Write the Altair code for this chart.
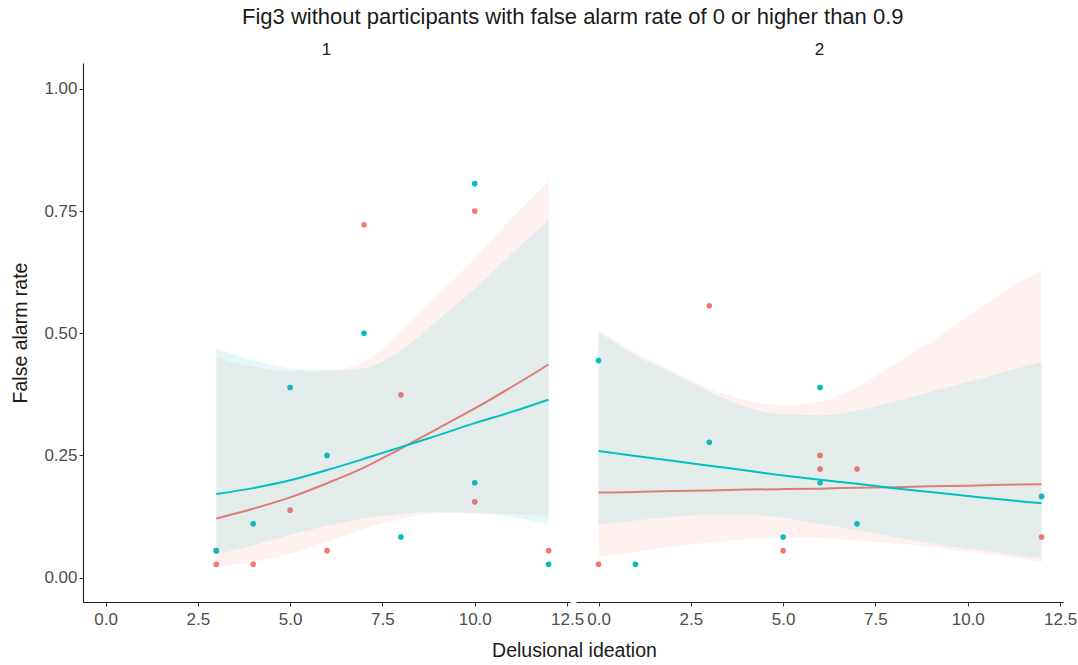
import altair as alt
import pandas as pd

RED = "#F8766D"
TEAL = "#00BFC4"
FONT = "Liberation Sans"

# ---------------- points ----------------
p1_red_x = [3, 3, 4, 5, 6, 7, 8, 10, 10, 12]
p1_red_y = [0.027, 0.055, 0.027, 0.138, 0.055, 0.722, 0.374, 0.750, 0.155, 0.055]
p1_teal_x = [3, 4, 5, 6, 7, 8, 10, 10, 12]
p1_teal_y = [0.055, 0.110, 0.389, 0.250, 0.500, 0.083, 0.806, 0.194, 0.027]
p2_red_x = [0, 3, 5, 6, 6, 7, 12]
p2_red_y = [0.027, 0.556, 0.055, 0.250, 0.222, 0.222, 0.083]
p2_teal_x = [0, 1, 3, 5, 6, 6, 7, 12]
p2_teal_y = [0.444, 0.027, 0.277, 0.083, 0.389, 0.194, 0.110, 0.166]

# ---------------- fitted curves + confidence bands ----------------
p1_fit_x = [3, 4, 5, 6, 7, 8, 9, 10, 11, 12]
p1_red_fit = [0.121, 0.141, 0.164, 0.193, 0.225, 0.264, 0.305, 0.346, 0.390, 0.436]
p1_red_lo = [0.022, 0.032, 0.049, 0.073, 0.100, 0.121, 0.132, 0.131, 0.130, 0.126]
p1_red_hi = [0.450, 0.432, 0.422, 0.424, 0.441, 0.503, 0.578, 0.653, 0.735, 0.811]
p1_teal_fit = [0.171, 0.183, 0.199, 0.220, 0.243, 0.267, 0.291, 0.316, 0.339, 0.364]
p1_teal_lo = [0.047, 0.066, 0.087, 0.106, 0.121, 0.130, 0.134, 0.132, 0.124, 0.108]
p1_teal_hi = [0.469, 0.445, 0.428, 0.424, 0.428, 0.465, 0.527, 0.591, 0.663, 0.731]

p2_fit_x = [0, 1, 2, 3, 4, 5, 6, 7, 8, 9, 10, 11, 12]
p2_red_fit = [0.174, 0.175, 0.177, 0.178, 0.180, 0.181, 0.182, 0.184, 0.185, 0.187, 0.188, 0.190, 0.191]
p2_red_lo = [0.042, 0.053, 0.063, 0.072, 0.078, 0.082, 0.081, 0.076, 0.070, 0.063, 0.053, 0.044, 0.032]
p2_red_hi = [0.506, 0.460, 0.422, 0.387, 0.363, 0.353, 0.360, 0.390, 0.435, 0.482, 0.534, 0.585, 0.629]
p2_teal_fit = [0.259, 0.249, 0.239, 0.229, 0.219, 0.209, 0.200, 0.192, 0.183, 0.175, 0.167, 0.159, 0.152]
p2_teal_lo = [0.108, 0.117, 0.124, 0.129, 0.129, 0.122, 0.110, 0.097, 0.083, 0.070, 0.059, 0.049, 0.039]
p2_teal_hi = [0.503, 0.455, 0.418, 0.380, 0.349, 0.334, 0.332, 0.342, 0.360, 0.380, 0.400, 0.421, 0.441]

x_ticks = [0, 2.5, 5, 7.5, 10, 12.5]
y_ticks = [0, 0.25, 0.5, 0.75, 1.0]

W, H = 487, 539
xscale = alt.Scale(domain=[-0.61, 12.58], nice=False, zero=False)
yscale = alt.Scale(domain=[-0.05, 1.053], nice=False, zero=False)


def pts_df(rx, ry, tx, ty):
    return pd.DataFrame({
        "x": rx + tx,
        "y": ry + ty,
        "grp": ["a"] * len(rx) + ["b"] * len(tx),
    })


def fit_df(x, f, lo, hi):
    return pd.DataFrame({"x": x, "fit": f, "lo": lo, "hi": hi})


def panel(label, pts, red, teal, first):
    if first:
        xaxis = alt.Axis(values=x_ticks, format=".1f", title="Delusional ideation",
                         titleX=491)
        yaxis = alt.Axis(values=y_ticks, format=".2f", title="False alarm rate")
    else:
        xaxis = alt.Axis(values=x_ticks, format=".1f", title=None)
        yaxis = None
    X = alt.X("x:Q", scale=xscale, axis=xaxis)
    Y = alt.Y("y:Q", scale=yscale, axis=yaxis)
    points = alt.Chart(pts).mark_circle(size=32, opacity=1).encode(
        x=X, y=Y,
        color=alt.Color("grp:N", scale=alt.Scale(domain=["a", "b"], range=[RED, TEAL]), legend=None),
    )
    layers = [points]
    for df, col in ((red, RED), (teal, TEAL)):
        band = alt.Chart(df).mark_area(color=col, opacity=0.1, interpolate="monotone").encode(
            x=alt.X("x:Q", scale=xscale),
            y=alt.Y("lo:Q", scale=yscale),
            y2="hi:Q",
        )
        line = alt.Chart(df).mark_line(color=col, strokeWidth=2, interpolate="monotone").encode(
            x=alt.X("x:Q", scale=xscale),
            y=alt.Y("fit:Q", scale=yscale),
        )
        layers += [band, line]
    return alt.layer(*layers).properties(
        width=W, height=H,
        title=alt.TitleParams(label, fontSize=17, fontWeight="normal", font=FONT,
                              color="#1a1a1a", anchor="middle", frame="group", offset=4),
    )


c1 = panel("1", pts_df(p1_red_x, p1_red_y, p1_teal_x, p1_teal_y),
           fit_df(p1_fit_x, p1_red_fit, p1_red_lo, p1_red_hi),
           fit_df(p1_fit_x, p1_teal_fit, p1_teal_lo, p1_teal_hi), True)
c2 = panel("2", pts_df(p2_red_x, p2_red_y, p2_teal_x, p2_teal_y),
           fit_df(p2_fit_x, p2_red_fit, p2_red_lo, p2_red_hi),
           fit_df(p2_fit_x, p2_teal_fit, p2_teal_lo, p2_teal_hi), False)

chart = alt.hconcat(c1, c2, spacing=6, bounds="flush").properties(
    title=alt.TitleParams(
        "Fig3 without participants with false alarm rate of 0 or higher than 0.9",
        fontSize=22, fontWeight="normal", font=FONT, color="#1a1a1a",
        anchor="middle", dx=29, offset=12,
    ),
    padding={"left": 10, "top": 6, "right": 0, "bottom": 0},
).configure_view(stroke=None).configure_axis(
    grid=False, domainColor="#1a1a1a", domainWidth=1.1, tickColor="#333333", tickSize=4,
    labelColor="#4d4d4d", labelFont=FONT, labelFontSize=17, labelPadding=3,
    titleFont=FONT, titleFontSize=19.5, titleFontWeight="normal", titleColor="#1a1a1a",
    labelOverlap=False, labelFlush=False,
).configure_axisY(titlePadding=13, labelPadding=2).configure_axisX(titlePadding=14, labelPadding=5)

chart.save("out.html", embed_options={"renderer": "svg", "actions": False})
